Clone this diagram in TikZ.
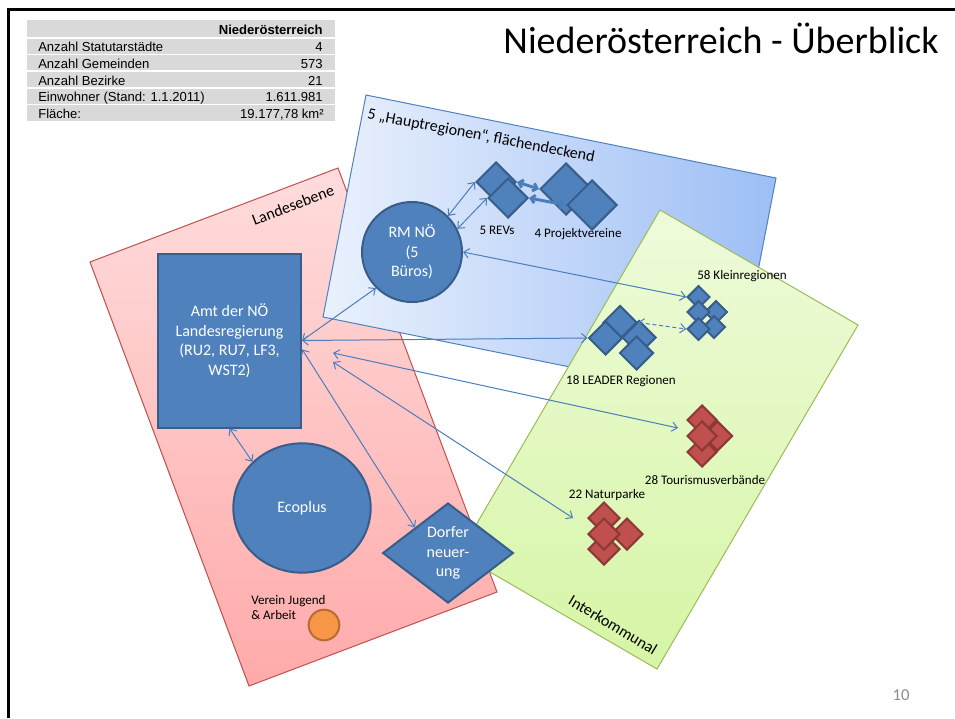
\documentclass[tikz,border=0pt]{standalone}
\usepackage{fontspec}
\setmainfont{Carlito}
\newfontfamily\tabfont{Liberation Sans}
\usetikzlibrary{shapes.geometric,arrows.meta}

\definecolor{nodeblau}{HTML}{4F81BD}
\definecolor{randblau}{HTML}{385D8A}
\definecolor{rautenrot}{HTML}{C0504D}
\definecolor{randrot}{HTML}{8C3836}
\definecolor{vereinorange}{HTML}{F79646}
\definecolor{orangerand}{HTML}{B66D31}
\definecolor{pfeilblau}{HTML}{4A7EBB}
\definecolor{tabgrau}{HTML}{D9D9D9}
\definecolor{seitengrau}{HTML}{8C8C8C}
\definecolor{rotoben}{HTML}{FFDCDC}
\definecolor{rotunten}{HTML}{FFAAAA}
\definecolor{rotrand}{HTML}{C0504D}
\definecolor{blaulinks}{HTML}{EAF1FD}
\definecolor{blaurechts}{HTML}{9DBEF5}
\definecolor{blaurand}{HTML}{4F81BD}
\definecolor{gruenoben}{HTML}{EEFBDA}
\definecolor{gruenunten}{HTML}{D6F5A5}
\definecolor{gruenrand}{HTML}{9BBB59}

\tikzset{
  knoten/.style={draw=randblau, fill=nodeblau, line width=1.5pt, text=white,
    align=center, font=\fontsize{12}{14.6}\selectfont},
  raute/.style={diamond, aspect=1, inner sep=0pt, minimum size=#1, line width=1.5pt},
  blauraute/.style={raute=#1, draw=randblau, fill=nodeblau},
  roteraute/.style={raute=#1, draw=randrot, fill=rautenrot},
  beschriftung/.style={font=\fontsize{9.8}{11.5}\selectfont},
  gruppe/.style={font=\fontsize{12}{14}\selectfont},
  tabzelle/.style={font=\tabfont\fontsize{9.8}{11}\selectfont, inner sep=0pt},
  pfeil/.style={draw=pfeilblau, line width=0.75pt,
    >={Straight Barb[length=4pt,width=7pt]}, <->},
  dickpfeil/.style={pfeil, line width=2.2pt,
    >={Straight Barb[length=3pt,width=6pt]}}
}

\begin{document}
\begin{tikzpicture}[x=0.75pt,y=-0.75pt]
    \useasboundingbox (0,0) rectangle (955,718);
    \draw [line width=1.9pt] (8.7,718) -- (8.7,9.5) -- (955,9.5);

    % Tabelle
    \fill [tabgrau] (27,20) rectangle (335,121);
    \foreach \y in {37.7,54.3,71,87.7,104.3}
        \draw [white, line width=1.2pt] (27,\y) -- (335,\y);
    \node [tabzelle, font=\tabfont\bfseries\fontsize{9.8}{11}\selectfont, anchor=base east] (kopf) at (323,34.3) {Niederösterreich};
    \node [tabzelle, anchor=base west] (z1) at (38,51.7) {Anzahl Statutarstädte};
    \node [tabzelle, anchor=base west] (z2) at (38,68.3) {Anzahl Gemeinden};
    \node [tabzelle, anchor=base west] (z3) at (38,85) {Anzahl Bezirke};
    \node [tabzelle, anchor=base west] (z4) at (38,101.7) {Einwohner (Stand: 1.1.2011)};
    \node [tabzelle, anchor=base west] (z5) at (38,118.3) {Fläche:};
    \node [tabzelle, anchor=base east] (w1) at (323,51.7) {4};
    \node [tabzelle, anchor=base east] (w2) at (323,68.3) {573};
    \node [tabzelle, anchor=base east] (w3) at (323,85) {21};
    \node [tabzelle, anchor=base east] (w4) at (323,101.7) {1.611.981};
    \node [tabzelle, anchor=base east] (w5) at (324,118.3) {19.177,78 km²};

    \node [font=\fontsize{28.5}{34}\selectfont, anchor=base] (titel) at (721,53) {Niederösterreich - Überblick};
    \node [font=\fontsize{12.5}{15}\selectfont, text=seitengrau, anchor=base] (seite) at (901,700) {10};

    % Ebenen
    \shadedraw [draw=rotrand, line width=0.75pt, top color=rotoben, bottom color=rotunten]
        (90,262) -- (338,168) -- (497,592) -- (249,686) -- cycle;
    \shadedraw [draw=blaurand, line width=0.75pt, left color=blaulinks, right color=blaurechts]
        (366,95) -- (776,178) -- (733,400) -- (323,317) -- cycle;
    \shadedraw [draw=gruenrand, line width=0.75pt, top color=gruenoben, bottom color=gruenunten]
        (660,210) -- (858,325) -- (657,669) -- (459,554) -- cycle;
    \node [gruppe, rotate=20.8] (landtext) at (293,205) {Landesebene};
    \node [gruppe, rotate=-10.8] (haupttext) at (481,136) {5 „Hauptregionen“, flächendeckend};
    \node [gruppe, rotate=-31] (intertext) at (613,625) {Interkommunal};

    % Landesebene
    \node [knoten, rectangle, minimum width=107.5pt, minimum height=130.5pt] (amt) at (229.5,340.5)
        {Amt der NÖ\\Landesregierung\\(RU2, RU7, LF3,\\WST2)};
    \node [knoten, circle, minimum size=75pt, inner sep=0pt] (rm) at (412,252) {RM NÖ\\(5\\Büros)};
    \node [knoten, ellipse, minimum width=103pt, minimum height=97pt] (eco) at (302,508) {Ecoplus};
    \node [knoten, diamond, aspect=1.3, inner sep=0pt, minimum width=98pt, minimum height=75pt] (dorf) at (448,553)
        {Dorfer\\neuer-\\ung};
    \node [circle, draw=orangerand, fill=vereinorange, line width=1.5pt, minimum size=23pt, inner sep=0pt] (verein) at (324,625) {};
    \node [beschriftung, align=left, anchor=north west, inner sep=0pt] (vereintext) at (251,595) {Verein Jugend\\\& Arbeit};

    % Regionen
    \node [blauraute=30pt] (rev1) at (496,182) {};
    \node [blauraute=30pt] (rev2) at (508,198) {};
    \node [blauraute=39pt] (proj1) at (566,189) {};
    \node [blauraute=37.5pt] (proj2) at (592,205) {};
    \node [beschriftung] (revtext) at (497,230) {5 REVs};
    \node [beschriftung] (projtext) at (578,234) {4 Projektvereine};

    \node [blauraute=25.5pt] (lead1) at (620,322.5) {};
    \node [blauraute=25.5pt] (lead2) at (605.5,338) {};
    \node [blauraute=25.5pt] (lead3) at (639,337.5) {};
    \node [blauraute=25.5pt] (lead4) at (636.5,353) {};
    \node [beschriftung] (leadtext) at (621,381) {18 LEADER Regionen};

    \node [blauraute=17pt] (k1) at (698.5,297) {};
    \node [blauraute=17pt] (k3) at (716,312) {};
    \node [blauraute=17pt] (k5) at (714,327) {};
    \node [blauraute=17pt] (k2) at (698.5,312) {};
    \node [blauraute=17pt] (k4) at (698.5,329) {};
    \node [beschriftung] (kleintext) at (742,276) {58 Kleinregionen};

    \node [roteraute=22.5pt] (t1) at (702,420) {};
    \node [roteraute=22.5pt] (t2) at (717.5,436) {};
    \node [roteraute=22.5pt] (t4) at (702,452) {};
    \node [roteraute=22.5pt] (t3) at (702,436) {};
    \node [beschriftung] (tourtext) at (705,480) {28 Tourismusverbände};

    \node [roteraute=24pt] (n1) at (604,518) {};
    \node [roteraute=24pt] (n4) at (604,549) {};
    \node [roteraute=24pt] (n3) at (627,534) {};
    \node [roteraute=24pt] (n2) at (604,534) {};
    \node [beschriftung] (naturtext) at (607,495) {22 Naturparke};

    % Verbindungen
    \coordinate (amtrechts1) at (333,353);
    \coordinate (amtrechts2) at (333,362);
    \coordinate (tourende) at (678,428);
    \coordinate (naturende) at (573,518);
    \draw [pfeil] (amt.east) -- (rm.225);
    \draw [pfeil] (amt.east) -- (lead2.west);
    \draw [pfeil] (rm.east) -- (k1.west);
    \draw [pfeil] (rm.45) -- (rev1.west);
    \draw [pfeil] (rm.27) -- (rev2.west);
    \draw [dickpfeil] (rev1.east) -- (proj1.west);
    \draw [dickpfeil] (rev2.east) -- (proj2.west);
    \draw [pfeil, dash pattern=on 3pt off 2pt] (lead1.east) -- (k4.west);
    \draw [pfeil] (amtrechts1) -- (tourende);
    \draw [pfeil] (amtrechts2) -- (naturende);
    \draw [pfeil] (amt.-7) -- (dorf.north west);
    \draw [pfeil] (amt.south) -- (eco.137);
\end{tikzpicture}
\end{document}
